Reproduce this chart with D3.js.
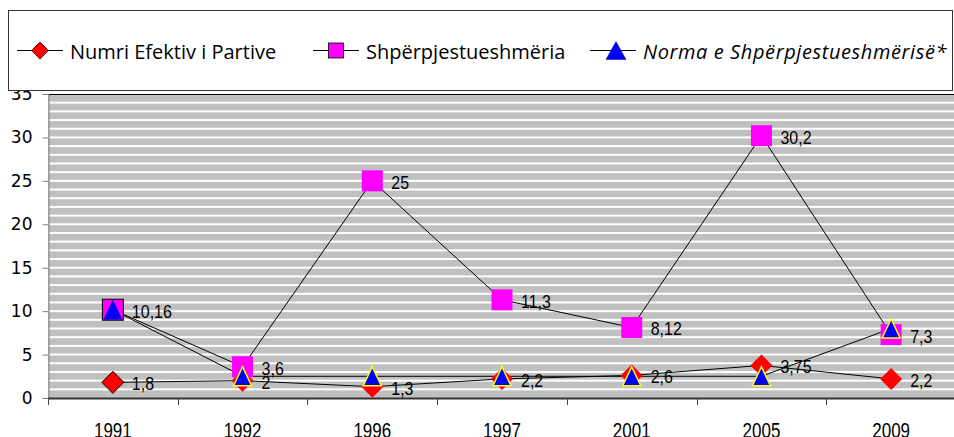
<!DOCTYPE html>
<html><head><meta charset="utf-8">
<script src="https://cdn.jsdelivr.net/npm/d3@7"></script>
<style>body{margin:0;background:#fff}</style>
</head><body>
<svg id="chart" width="954" height="437"></svg>
<script>
// ---- data ----
const years = ["1991","1992","1996","1997","2001","2005","2009"];
const nep   = [1.8, 2, 1.3, 2.2, 2.6, 3.75, 2.2];          // Numri Efektiv i Partive
const disp  = [10.16, 3.6, 25, 11.3, 8.12, 30.2, 7.3];     // Shpërpjestueshmëria
const norm  = [10.16, 2.5, 2.5, 2.5, 2.5, 2.5, 8.0];       // Norma e Shpërpjestueshmërisë*
const yTicks = [0,5,10,15,20,25,30,35];
const seriesNames = ["Numri Efektiv i Partive","Shpërpjestueshmëria","Norma e Shpërpjestueshmërisë*"];

(function(){
const svg = d3.select("#chart");
const pL = 48, pR = 956, pT = 94, pB = 398;

const x = d3.scaleBand().domain(years).range([pL, pR]).paddingInner(0).paddingOuter(0);
const cx = d => x(d) + x.bandwidth()/2;
const y = d3.scaleLinear().domain([0,35]).range([pB, pT]);
const fmt = v => String(v).replace(".", ",");

// plot background
svg.append("rect").attr("x", pL).attr("y", pT).attr("width", pR-pL).attr("height", pB-pT).attr("fill", "#c0c0c0");
// stripes at each unit
svg.append("g").selectAll("rect").data(d3.range(1,35)).join("rect")
  .attr("x", pL+1).attr("width", pR-pL)
  .attr("y", d => y(d)-1).attr("height", 2).attr("fill", "#ffffff");
// top border
svg.append("line").attr("x1", pL).attr("x2", pR).attr("y1", pT+0.5).attr("y2", pT+0.5).attr("stroke", "#000");

// y axis
const yAxis = svg.append("g").attr("transform", `translate(${pL+0.5},0)`)
  .call(d3.axisLeft(y).tickValues(yTicks).tickSize(6).tickPadding(10).tickFormat(d=>d));
yAxis.select(".domain").attr("stroke", "#808080");
yAxis.selectAll(".tick line").attr("stroke", "#808080");
yAxis.selectAll(".tick text").attr("font-family", "DejaVu Sans").attr("font-size", 17).attr("fill", "#000");

// x axis
const xAxis = svg.append("g").attr("transform", `translate(0,${pB})`)
  .call(d3.axisBottom(x).tickSize(0).tickFormat(""));
xAxis.select(".domain").attr("stroke", "#333").attr("stroke-width", 2);
svg.append("g").selectAll("line").data(d3.range(0, years.length)).join("line")
  .attr("x1", i => Math.round(pL + i*x.bandwidth())+0.5).attr("x2", i => Math.round(pL + i*x.bandwidth())+0.5)
  .attr("y1", pB).attr("y2", pB+7).attr("stroke", "#444");
svg.append("g").selectAll("text").data(years).join("text")
  .attr("transform", d => `translate(${cx(d)},438) scale(1,1.35)`)
  .attr("text-anchor", "middle").attr("font-family", "Liberation Sans").attr("font-size", 17).attr("fill", "#000")
  .text(d => d);

// lines
const line = d3.line().x((d,i) => cx(years[i])).y(d => y(d));
[nep, disp, norm].forEach(s => {
  svg.append("path").datum(s).attr("d", line).attr("fill", "none").attr("stroke", "#000").attr("stroke-width", 1);
});

// markers
const diamond = (r) => `M0,${-r}L${r},0L0,${r}L${-r},0Z`;
const tri = (w,h) => `M0,${-h/2}L${w/2},${h/2}L${-w/2},${h/2}Z`;
svg.append("g").selectAll("path").data(nep).join("path")
  .attr("transform", (d,i) => `translate(${cx(years[i])},${y(d)})`)
  .attr("d", diamond(11)).attr("fill", "#ff0000")
  .attr("stroke", (d,i) => i===0 ? "#000" : "none").attr("stroke-width", 1);
svg.append("g").selectAll("rect").data(disp).join("rect")
  .attr("x", (d,i) => cx(years[i]) - 10.5).attr("y", d => y(d) - 10.5)
  .attr("width", 21).attr("height", 21).attr("fill", "#ff00ff")
  .attr("stroke", (d,i) => i===0 ? "#000" : "none").attr("stroke-width", 1);
svg.append("g").selectAll("path").data(norm).join("path")
  .attr("transform", (d,i) => `translate(${cx(years[i])},${y(d)})`)
  .attr("d", tri(18,19)).attr("fill", "#0000ff")
  .attr("stroke", (d,i) => i===0 ? "#00008b" : "#ffff00").attr("stroke-width", (d,i) => i===0 ? 0.5 : 1.5);

// data labels
[nep, disp].forEach(s => {
  svg.append("g").selectAll("text").data(s).join("text")
    .attr("transform", (d,i) => `translate(${cx(years[i]) + 19},${y(d) + 8}) scale(1,1.15)`)
    .attr("font-family", "Liberation Sans").attr("font-size", 16).attr("fill", "#000")
    .text(d => fmt(d));
});

// legend
const lg = svg.append("g");
lg.append("rect").attr("x", 8.5).attr("y", 10.5).attr("width", 944).attr("height", 80)
  .attr("fill", "#fff").attr("stroke", "#333").attr("stroke-width", 1);
const ly = 50.5;
const items = [
  {x0: 17, name: seriesNames[0], italic: false},
  {x0: 313, name: seriesNames[1], italic: false},
  {x0: 590, name: seriesNames[2], italic: true}
];
items.forEach((it, k) => {
  lg.append("line").attr("x1", it.x0).attr("x2", it.x0+46).attr("y1", ly).attr("y2", ly).attr("stroke", "#000");
  const mx = it.x0 + 23 + (k===2 ? 3 : 0);
  if (k===0) lg.append("path").attr("transform", `translate(${mx},${ly})`).attr("d", diamond(8.5)).attr("fill", "#ff0000").attr("stroke", "#400").attr("stroke-width", 0.8);
  if (k===1) lg.append("rect").attr("x", mx-7.5).attr("y", ly-7.5).attr("width", 15).attr("height", 15).attr("fill", "#ff00ff").attr("stroke", "#000").attr("stroke-width", 0.8);
  if (k===2) lg.append("path").attr("transform", `translate(${mx},${ly})`).attr("d", tri(20,18)).attr("fill", "#0000ff").attr("stroke", "#00008b").attr("stroke-width", 0.5);
  lg.append("text").attr("x", it.x0 + 53).attr("y", 58.5)
    .attr("font-family", "Open Sans").attr("font-size", 20)
    .attr("letter-spacing", it.italic ? 0.6 : 0)
    .attr("font-style", it.italic ? "italic" : "normal").attr("fill", "#000")
    .text(it.name);
});
})();
</script>
</body></html>
